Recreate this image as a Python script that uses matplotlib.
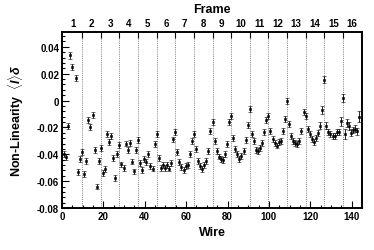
import numpy as np
import matplotlib
matplotlib.use('Agg')
import matplotlib.pyplot as plt
from matplotlib.ticker import MultipleLocator, FixedLocator, NullFormatter

plt.rcParams['font.family'] = ['Liberation Sans', 'DejaVu Sans']
plt.rcParams['mathtext.fontset'] = 'custom'
plt.rcParams['mathtext.rm'] = 'Liberation Sans:bold'
plt.rcParams['mathtext.it'] = 'Liberation Sans:italic:bold'
plt.rcParams['axes.unicode_minus'] = False

# Non-linearity per wire, 9 wires per frame (one row per frame)
nonlin = [
    -0.0400, -0.0420, -0.0190, 0.0336, 0.0250, np.nan, 0.0167, -0.0534, -0.0435,
    -0.0385, -0.0546, -0.0447, -0.0144, -0.0198, -0.0107, -0.0367, -0.0640, -0.0452,
    -0.0355, -0.0540, -0.0510, -0.0250, -0.0310, -0.0263, -0.0430, -0.0580, -0.0395,
    -0.0330, -0.0476, -0.0500, -0.0320, -0.0367, -0.0315, -0.0454, -0.0528, -0.0370,
    -0.0296, -0.0462, -0.0518, -0.0432, -0.0460, -0.0397, -0.0490, -0.0506, -0.0325,
    -0.0250, -0.0428, -0.0503, -0.0478, -0.0503, -0.0478, -0.0506, -0.0462, -0.0290,
    -0.0237, -0.0385, -0.0460, -0.0492, -0.0518, -0.0490, -0.0477, -0.0397, -0.0303,
    -0.0248, -0.0360, -0.0447, -0.0485, -0.0509, -0.0477, -0.0447, -0.0373, -0.0228,
    -0.0161, -0.0303, -0.0377, -0.0417, -0.0435, -0.0442, -0.0397, -0.0323, -0.0161,
    -0.0112, -0.0280, -0.0360, -0.0397, -0.0435, -0.0410, -0.0373, -0.0293, -0.0181,
    -0.0062, -0.0248, -0.0303, -0.0367, -0.0377, -0.0353, -0.0318, -0.0235, -0.0144,
    -0.0112, -0.0228, -0.0286, -0.0318, -0.0335, -0.0310, -0.0298, -0.0228, -0.0136,
    -0.0004, -0.0173, -0.0261, -0.0298, -0.0315, -0.0323, -0.0298, -0.0228, -0.0086,
    -0.0112, -0.0211, -0.0248, -0.0286, -0.0310, -0.0278, -0.0243, -0.0186, -0.0074,
    0.0155, -0.0186, -0.0235, -0.0248, -0.0261, -0.0261, -0.0235, -0.0235, -0.0156,
    0.0020, -0.0250, -0.0170, -0.0190, -0.0240, -0.0220, -0.0210, -0.0230, -0.0120,
]
nonlin_err = [
    0.0022, 0.0025, 0.0022, 0.0025, 0.0025, 0.0, 0.0022, 0.0022, 0.0022,
    0.0022, 0.0022, 0.0022, 0.0025, 0.0025, 0.0025, 0.0022, 0.0022, 0.0022,
    0.0022, 0.0022, 0.0022, 0.0022, 0.0022, 0.0022, 0.0022, 0.0022, 0.0022,
    0.0022, 0.0022, 0.0022, 0.0022, 0.0022, 0.0022, 0.0022, 0.0022, 0.0022,
    0.0022, 0.0022, 0.0022, 0.0022, 0.0022, 0.0022, 0.0022, 0.0022, 0.0022,
    0.0022, 0.0022, 0.0022, 0.0022, 0.0022, 0.0022, 0.0022, 0.0022, 0.0022,
    0.0022, 0.0022, 0.0022, 0.0022, 0.0022, 0.0022, 0.0022, 0.0022, 0.0022,
    0.0022, 0.0022, 0.0022, 0.0022, 0.0022, 0.0022, 0.0022, 0.0022, 0.0022,
    0.0022, 0.0022, 0.0022, 0.0022, 0.0022, 0.0022, 0.0022, 0.0022, 0.0022,
    0.0022, 0.0022, 0.0022, 0.0022, 0.0022, 0.0022, 0.0022, 0.0022, 0.0022,
    0.0022, 0.0022, 0.0022, 0.0022, 0.0022, 0.0022, 0.0022, 0.0022, 0.0022,
    0.0022, 0.0022, 0.0022, 0.0022, 0.0022, 0.0022, 0.0022, 0.0022, 0.0022,
    0.0025, 0.0022, 0.0022, 0.0022, 0.0022, 0.0022, 0.0022, 0.0022, 0.0025,
    0.0022, 0.0022, 0.0022, 0.0022, 0.0022, 0.0022, 0.0022, 0.0025, 0.0030,
    0.0025, 0.0025, 0.0022, 0.0022, 0.0022, 0.0022, 0.0022, 0.0022, 0.0030,
    0.0030, 0.0040, 0.0030, 0.0030, 0.0025, 0.0025, 0.0025, 0.0025, 0.0040,
]
frame_labels = [str(k) for k in range(1, 17)]

wires_per_frame = 9
wire = np.arange(len(nonlin)) + 0.75
frame_edges = np.arange(1, 17) * wires_per_frame + 0.75
frame_centres = frame_edges - wires_per_frame / 2

fig = plt.figure(figsize=(3.74, 2.51), dpi=100)
ax = fig.add_axes([62 / 374, 42 / 251, 300 / 374, 176 / 251])

for xe in frame_edges:
    ax.axvline(xe, color='0.5', linestyle=(0, (1, 1.2)), linewidth=0.7, zorder=1)

ax.errorbar(wire, nonlin, yerr=nonlin_err, fmt='s', color='black', markersize=2.0,
            markeredgewidth=0.4, elinewidth=0.6, capsize=1.1, capthick=0.6, zorder=3)

ax.set_xlim(0, 145)
ax.set_ylim(-0.08, 0.051)

ax.xaxis.set_major_locator(MultipleLocator(20))
ax.xaxis.set_minor_locator(MultipleLocator(5))
ax.yaxis.set_major_locator(MultipleLocator(0.02))
ax.yaxis.set_minor_locator(MultipleLocator(0.004))
ax.yaxis.set_major_formatter(plt.FuncFormatter(lambda v, p: '0' if abs(v) < 1e-9 else '{:g}'.format(round(v, 2))))
ax.tick_params(which='both', direction='in', top=False, right=False, width=0.8)
ax.tick_params(which='major', length=5, labelsize=7, pad=2)
ax.tick_params(which='minor', length=2.5)
for lab in ax.get_xticklabels() + ax.get_yticklabels():
    lab.set_fontweight('bold')
for s in ax.spines.values():
    s.set_linewidth(1.2)

# top axis: frame numbers
ax2 = ax.twiny()
ax2.set_xlim(ax.get_xlim())
ax2.xaxis.set_major_locator(FixedLocator(frame_centres))
ax2.set_xticklabels(frame_labels, fontsize=7, fontweight='bold')
ax2.xaxis.set_minor_locator(FixedLocator(frame_edges))
ax2.xaxis.set_minor_formatter(NullFormatter())
ax2.tick_params(which='major', length=0, pad=3)
ax2.tick_params(which='minor', direction='in', length=4, width=0.8)
for s in ax2.spines.values():
    s.set_linewidth(1.2)

fig.text(212 / 374, 1 - 233 / 251, 'Wire', ha='center', va='center',
         fontsize=9, fontweight='bold')
fig.text(212 / 374, 1 - 10 / 251, 'Frame', ha='center', va='center',
         fontsize=9, fontweight='bold')
fig.text(16 / 374, 1 - 121 / 251, r'Non-Linearity  $\langle I\rangle\delta$',
         ha='center', va='center', rotation=90, fontsize=9, fontweight='bold')

fig.savefig('out.png', dpi=100)
